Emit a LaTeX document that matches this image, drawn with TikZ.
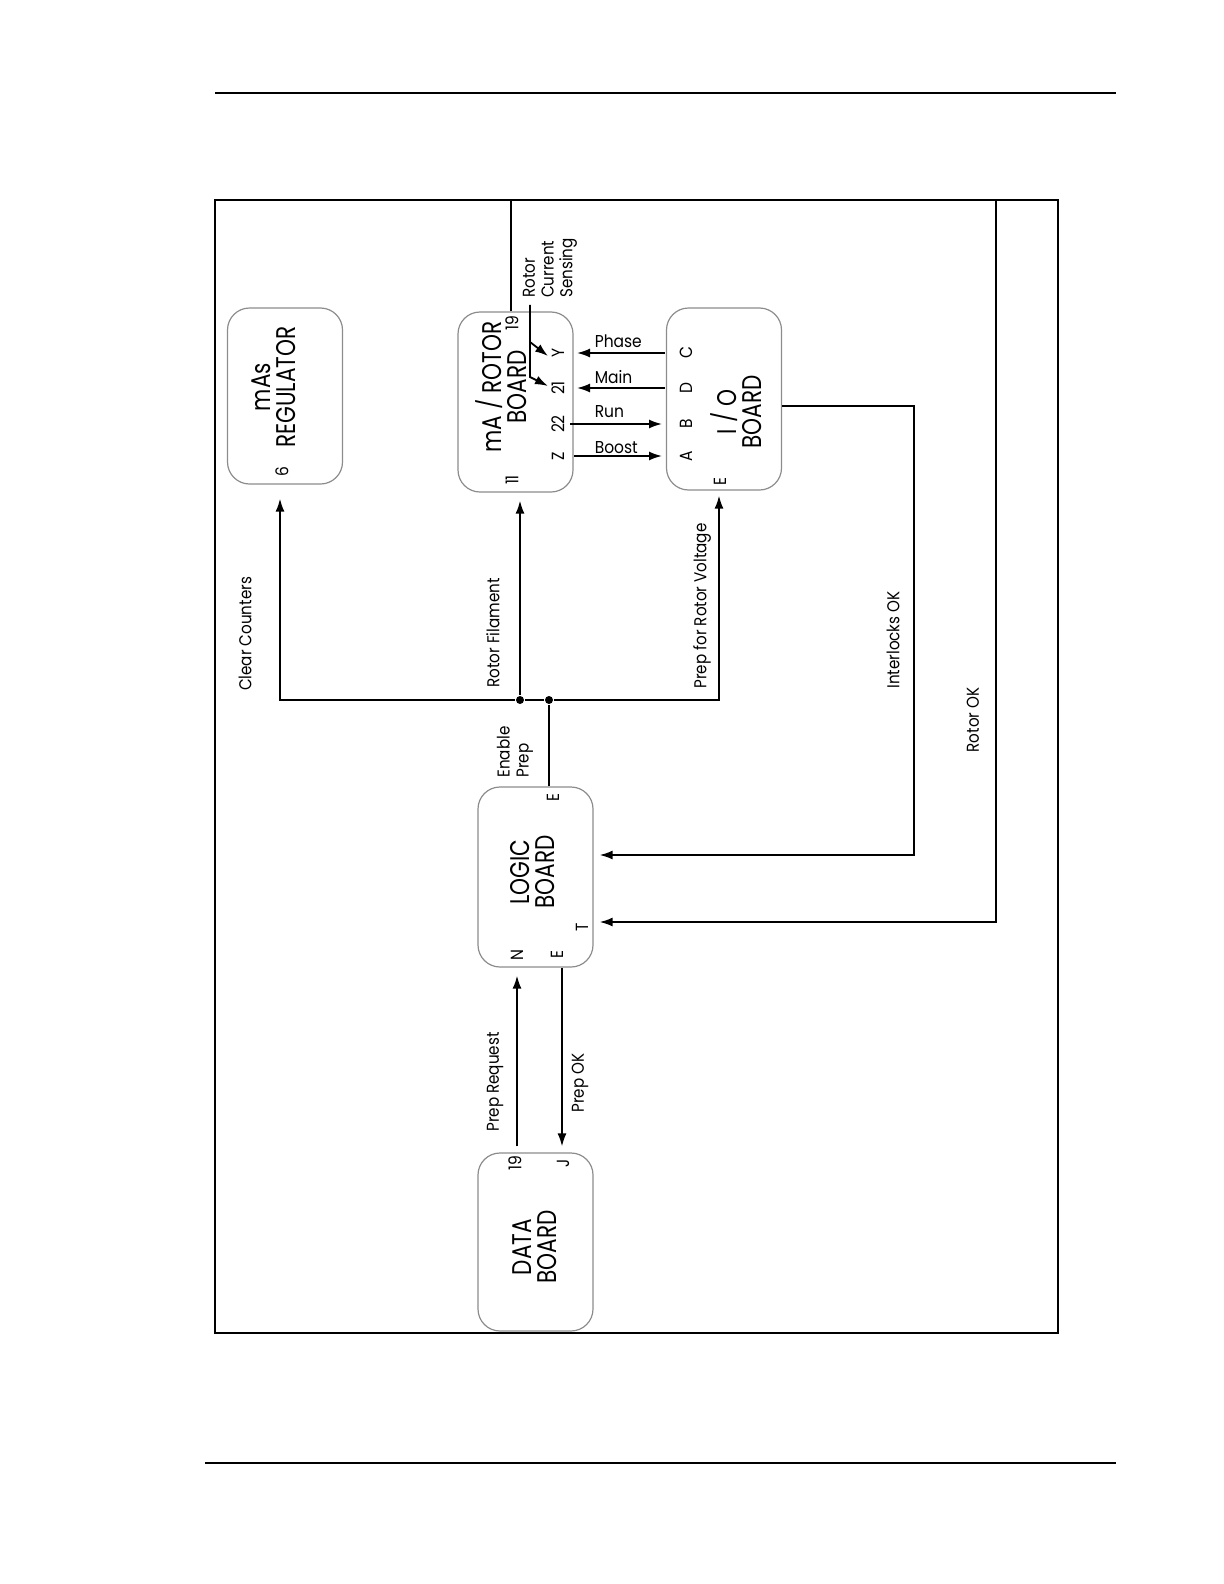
\documentclass[tikz,border=0pt]{standalone}
\usepackage{fontspec}
\setmainfont{Poppins}
\usetikzlibrary{arrows.meta,calc}

\tikzset{every picture/.style={line width=0.9pt}}
\tikzset{
  board/.style={draw=black!45, line width=0.6pt, rounded corners=11pt, minimum width=57.5pt, minimum height=90pt, inner sep=0pt},
  title/.style={rotate=90, xscale=0.8, align=center, inner sep=0pt, font=\fontsize{13.5}{12.5}\selectfont},
  tag/.style={rotate=90, xscale=0.88, align=left, inner sep=0.75pt, font=\fontsize{8.6}{9.4}\selectfont},
  pin/.style={rotate=90, xscale=0.88, inner sep=0.75pt, font=\fontsize{8.8}{9.5}\selectfont},
  sig/.style={xscale=0.9, inner sep=0pt, anchor=base west, font=\fontsize{8.6}{9.6}\selectfont},
  arr/.style={-{Latex[length=6.5pt,width=4.5pt]}},
  dot/.style={circle, fill, inner sep=0pt, minimum size=4pt}
}
\newcommand{\bslash}{\raisebox{1.6pt}{\scalebox{1}[0.9]{/}}}

\begin{document}
\begin{tikzpicture}[x=0.5pt,y=0.5pt,yscale=-1]
\useasboundingbox (0,0) rectangle (1224,1584);
%Page rules
\draw [line width=0.6pt] (215,93) -- (1116,93) ;
\draw [line width=0.6pt] (205,1463) -- (1116,1463) ;
%Shape: Frame
\draw [line width=1.3pt] (215,200) rectangle (1058,1333) ;

%Boards
\node [board, minimum height=88pt] (mas) at (285,396) {};
\node [board] (mar) at (515.5,402) {};
\node [board, minimum height=91pt] (io) at (724,399) {};
\node [board] (logic) at (535.5,877) {};
\node [board, minimum height=89pt] (data) at (535.5,1242) {};

% Text Node
\node [title] (masT) at (274,387) {mAs\\REGULATOR};
\node [title] (marT) at (501,387) {mA \bslash{} ROTOR\\BOARD};
\node [title] (ioT) at (736,412) {I \bslash{} O\\BOARD};
\node [title] (logicT) at (533,872) {LOGIC\\BOARD};
\node [title] (dataT) at (535,1247) {DATA\\BOARD};

%Pins
\node [pin] (p6) at (282,472) {6};
\node [pin] (m19) at (512,323) {19};
\node [pin] (mY) at (558,353) {Y};
\node [pin] (m21) at (558,388) {21};
\node [pin] (m22) at (558,424) {22};
\node [pin] (mZ) at (558,456) {Z};
\node [pin] (m11) at (512,480) {11};
\node [pin] (iC) at (686,353) {C};
\node [pin] (iD) at (686,388) {D};
\node [pin] (iB) at (686,424) {B};
\node [pin] (iA) at (686,456) {A};
\node [pin] (iE) at (720,482) {E};
\node [pin] (lE1) at (553,798) {E};
\node [pin] (lT) at (582,927) {T};
\node [pin] (lN) at (517,955) {N};
\node [pin] (lE2) at (557,955) {E};
\node [pin] (d19) at (515,1163) {19};
\node [pin] (dJ) at (563,1163) {J};

% Text Node
\node [tag] (rcs) at (550,268) {Rotor\\Current\\Sensing};
\node [tag] (clr) at (245,634) {Clear Counters};
\node [tag] (fil) at (493,633) {Rotor Filament};
\node [tag] (prv) at (702,606) {Prep for Rotor Voltage};
\node [tag] (enp) at (515,752) {Enable\\Prep};
\node [tag] (ilk) at (893,640) {Interlocks OK};
\node [tag] (rok) at (973,720) {Rotor OK};
\node [tag] (prq) at (495,1082) {Prep Request};
\node [tag] (pok) at (580,1083) {Prep OK};
\node [sig] (phs) at (594,347) {Phase};
\node [sig] (mn) at (594,383) {Main};
\node [sig] (rn) at (594,417) {Run};
\node [sig] (bst) at (594,453) {Boost};

%Junctions
\node [dot] (jA) at (520,700) {};
\node [dot] (jB) at (549,700) {};
\coordinate (rokc) at (996,200);
\coordinate (ilkc) at (914,855);
\coordinate (rcsc) at (530,377);
\coordinate (rcsb) at (530,342);

%Lines
\draw [arr] (jB) -- (jA) -| ($(mas.south)+(-5,14)$) ;
\draw [arr] (jA) -- ($(mar.south)+(4.5,8)$) ;
\draw [arr] (jB) -| ($(io.south)+(-5,5)$) ;
\draw (logic.north -| jB) -- (jB) ;
\draw [arr] ($(data.north)+(-18.5,-6)$) -- ($(logic.south)+(-18.5,8)$) ;
\draw [arr] ($(logic.south)+(26.5,0)$) -- ($(data.north)+(26.5,-6)$) ;
\draw [arr] ($(io.east)+(0,7)$) -| (ilkc) -- ($(logic.east)+(6,-22)$) ;
\draw [arr] ($(mar.north)+(-4.5,0)$) |- (rokc) |- ($(logic.east)+(6,45)$) ;
\draw [arr, shorten <=10.5pt, shorten >=9.5pt] (iC.center) -- (mY.center) ;
\draw [arr, shorten <=10.5pt, shorten >=9.5pt] (iD.center) -- (m21.center) ;
\draw [arr, shorten <=6pt, shorten >=12pt] (m22.center) -- (iB.center) ;
\draw [arr, shorten <=8pt, shorten >=12pt] (mZ.center) -- (iA.center) ;
\draw [arr] ($(rcs.west)+(-20,5)$) -- (rcsc) -- ($(m21)+(-10,-2)$) ;
\draw [arr] (rcsb) -- ($(mY)+(-10,3)$) ;

\end{tikzpicture}
\end{document}
